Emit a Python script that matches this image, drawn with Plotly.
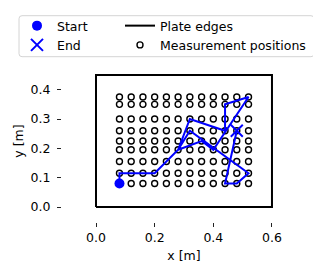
import plotly.graph_objects as go

# measurement grid
grid_x = [0.08, 0.12, 0.16, 0.20, 0.24, 0.28, 0.32, 0.36, 0.40, 0.44, 0.48, 0.52]
grid_y = [0.08, 0.115, 0.155, 0.195, 0.225, 0.26, 0.30, 0.35, 0.375]

# plate outline
plate_x = [0.0, 0.6, 0.6, 0.0, 0.0]
plate_y = [0.0, 0.0, 0.45, 0.45, 0.0]

# measurement path (start -> end)
path_x = [0.08, 0.08, 0.20, 0.28, 0.32, 0.44, 0.44, 0.52, 0.40, 0.36, 0.28, 0.32, 0.52, 0.48, 0.44, 0.48]
path_y = [0.08, 0.115, 0.115, 0.195, 0.30, 0.26, 0.35, 0.375, 0.195, 0.225, 0.195, 0.26, 0.115, 0.08, 0.08, 0.26]

x_ticks = [0.0, 0.2, 0.4, 0.6]
y_ticks = [0.0, 0.1, 0.2, 0.3, 0.4]

# page body has an 8px margin, so the figure is sized to fit the rest of the window
W, H = 313, 267
L, R, T, B = 54, 15, 52, 53
FONT = "DejaVu Sans"
FS = 12.5

mx = [x for y in grid_y for x in grid_x]
my = [y for y in grid_y for x in grid_x]

fig = go.Figure()
fig.add_trace(go.Scatter(x=plate_x, y=plate_y, mode="lines", name="Plate edges",
                         line=dict(color="black", width=2), legend="legend2"))
fig.add_trace(go.Scatter(x=mx, y=my, mode="markers", name="Measurement positions",
                         marker=dict(symbol="circle-open", size=6, color="black",
                                     line=dict(width=1.4, color="black")), legend="legend2"))
fig.add_trace(go.Scatter(x=path_x, y=path_y, mode="lines", showlegend=False,
                         line=dict(color="#0000ff", width=2)))
fig.add_trace(go.Scatter(x=[path_x[0]], y=[path_y[0]], mode="markers", name="Start",
                         marker=dict(symbol="circle", size=10, color="#0000ff"), legend="legend"))
fig.add_trace(go.Scatter(x=[path_x[-1]], y=[path_y[-1]], mode="markers", name="End",
                         marker=dict(symbol="x-thin-open", size=12, color="#0000ff",
                                     line=dict(width=2, color="#0000ff")), legend="legend"))

pw = W - L - R
ph = H - T - B
scale = 293.3
x0 = -34 / scale
x1 = x0 + pw / scale
y0 = -15 / scale
y1 = y0 + ph / scale

def px2paper_x(px):
    return (px - L) / pw

def py2paper_y(py):
    return (H - B - py) / ph

axis_common = dict(showgrid=False, zeroline=False, showline=False, ticks="outside",
                   ticklen=4, tickwidth=1, tickcolor="#222222", automargin=False,
                   tickfont=dict(family=FONT, size=FS, color="black"))

fig.update_layout(
    width=W, height=H,
    margin=dict(l=L, r=R, t=T, b=B, autoexpand=False),
    plot_bgcolor="white", paper_bgcolor="white",
    font=dict(family=FONT, size=FS, color="black"),
    xaxis=dict(range=[x0, x1], tickvals=x_ticks, ticktext=[f"{v:.1f}" for v in x_ticks],
               title=dict(text="x [m]", font=dict(family=FONT, size=FS), standoff=7),
               **axis_common),
    yaxis=dict(range=[y0, y1], tickvals=y_ticks, ticktext=[f"{v:.1f}" for v in y_ticks],
               title=dict(text="y [m]", font=dict(family=FONT, size=FS), standoff=4),
               ticklabelstandoff=4, **axis_common),
    legend=dict(x=px2paper_x(9), y=py2paper_y(3), xanchor="left", yanchor="top",
                bgcolor="rgba(0,0,0,0)", borderwidth=0, font=dict(family=FONT, size=FS),
                tracegroupgap=0, itemwidth=30),
    legend2=dict(x=px2paper_x(112), y=py2paper_y(3), xanchor="left", yanchor="top",
                 bgcolor="rgba(0,0,0,0)", borderwidth=0, font=dict(family=FONT, size=FS),
                 tracegroupgap=0, itemwidth=30),
    showlegend=True,
)

# rounded legend frame
bx0, bx1 = px2paper_x(11), px2paper_x(306)
by0, by1 = py2paper_y(48.7), py2paper_y(7.7)
rx, ry = 3 / pw, 3 / ph
frame = (f"M {bx0 + rx},{by0} L {bx1 - rx},{by0} Q {bx1},{by0} {bx1},{by0 + ry} "
         f"L {bx1},{by1 - ry} Q {bx1},{by1} {bx1 - rx},{by1} "
         f"L {bx0 + rx},{by1} Q {bx0},{by1} {bx0},{by1 - ry} "
         f"L {bx0},{by0 + ry} Q {bx0},{by0} {bx0 + rx},{by0} Z")
fig.add_shape(type="path", xref="paper", yref="paper", path=frame,
              line=dict(color="#d4d4d4", width=1), fillcolor="rgba(0,0,0,0)", layer="above")

fig.write_html("out.html")
